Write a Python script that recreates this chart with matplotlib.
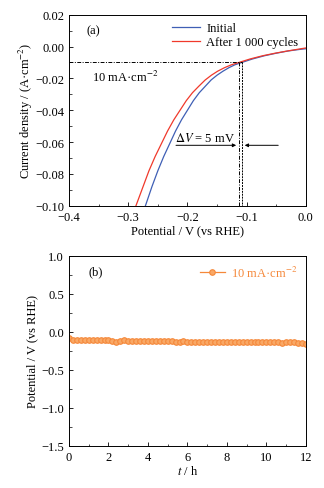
import matplotlib
matplotlib.use("Agg")
import matplotlib.pyplot as plt
from matplotlib.ticker import MultipleLocator

plt.rcParams["font.family"] = ["Liberation Serif", "DejaVu Serif"]
plt.rcParams["mathtext.fontset"] = "stix"
plt.rcParams["font.size"] = 9

# LSV curves, panel (a)
v_initial = [-0.271, -0.260, -0.250, -0.240, -0.230, -0.220, -0.210, -0.200,
             -0.190, -0.180, -0.170, -0.160, -0.150, -0.140, -0.130, -0.120,
             -0.108, -0.090, -0.070, -0.050, -0.030, -0.010, 0.000]
j_initial = [-0.100, -0.088, -0.078, -0.069, -0.061, -0.053, -0.046, -0.040,
             -0.034, -0.029, -0.025, -0.021, -0.018, -0.0155, -0.0133, -0.0115,
             -0.0100, -0.0078, -0.0058, -0.0042, -0.0028, -0.0018, -0.0014]
v_after = [-0.287, -0.275, -0.265, -0.2545, -0.244, -0.2335, -0.223, -0.2125,
           -0.202, -0.1915, -0.181, -0.170, -0.1595, -0.149, -0.1375, -0.126,
           -0.113, -0.094, -0.073, -0.052, -0.031, -0.010, 0.000]
j_after = [-0.100, -0.088, -0.078, -0.069, -0.061, -0.053, -0.046, -0.040,
           -0.034, -0.029, -0.025, -0.021, -0.018, -0.0155, -0.0133, -0.0115,
           -0.0100, -0.0078, -0.0058, -0.0042, -0.0028, -0.0015, -0.0009]

# chronopotentiometry at 10 mA/cm2, panel (b)
t_h = [0.0, 0.2, 0.4, 0.6, 0.8, 1.0, 1.2, 1.4, 1.6, 1.8, 2.0, 2.2, 2.4, 2.6,
       2.8, 3.0, 3.2, 3.4, 3.6, 3.8, 4.0, 4.2, 4.4, 4.6, 4.8, 5.0, 5.2, 5.4,
       5.6, 5.8, 6.0, 6.2, 6.4, 6.6, 6.8, 7.0, 7.2, 7.4, 7.6, 7.8, 8.0, 8.2,
       8.4, 8.6, 8.8, 9.0, 9.2, 9.4, 9.6, 9.8, 10.0, 10.2, 10.4, 10.6, 10.8,
       11.0, 11.2, 11.4, 11.6, 11.8, 12.0]
e_v = [-0.08, -0.11, -0.11, -0.11, -0.11, -0.11, -0.11, -0.11, -0.11, -0.11,
       -0.11, -0.12, -0.13, -0.12, -0.11, -0.12, -0.12, -0.12, -0.12, -0.12,
       -0.12, -0.12, -0.12, -0.12, -0.12, -0.12, -0.12, -0.13, -0.14, -0.12,
       -0.13, -0.13, -0.13, -0.13, -0.13, -0.13, -0.13, -0.13, -0.13, -0.13,
       -0.13, -0.13, -0.13, -0.13, -0.13, -0.13, -0.13, -0.13, -0.13, -0.13,
       -0.13, -0.13, -0.13, -0.13, -0.15, -0.13, -0.14, -0.14, -0.15, -0.15,
       -0.16]


def fmt(digits):
    def f(v, pos):
        if abs(v) < 1e-9:
            v = 0.0
        return f"{v:.{digits}f}".replace("-", "\u2212")
    return plt.FuncFormatter(f)


fig = plt.figure(figsize=(3.24, 4.89), dpi=100)
ax1 = fig.add_axes([0.213, 0.577, 0.731, 0.391])
ax2 = fig.add_axes([0.213, 0.086, 0.731, 0.389])

# (a)
ax1.plot(v_initial, j_initial, color="#3f5fb5", lw=0.9, label="Initial")
ax1.plot(v_after, j_after, color="#f0392b", lw=0.9, label="After 1 000 cycles")
ax1.plot([-0.4, -0.108], [-0.01, -0.01], color="k", lw=0.7, ls=(0, (4, 1.5, 1, 1.5)))
ax1.plot([-0.113, -0.113], [-0.01, -0.1], color="k", lw=0.7, ls=(0, (4, 1.5, 1, 1.5)))
ax1.plot([-0.108, -0.108], [-0.01, -0.1], color="k", lw=0.7, ls=(0, (2, 1)))
ax1.annotate("", xy=(-0.113, -0.062), xytext=(-0.224, -0.062),
             arrowprops=dict(arrowstyle="-|>", color="k", lw=0.7, mutation_scale=5))
ax1.annotate("", xy=(-0.108, -0.062), xytext=(-0.042, -0.062),
             arrowprops=dict(arrowstyle="-|>", color="k", lw=0.7, mutation_scale=5))
ax1.text(-0.221, -0.0595, r"$\Delta V$ = 5 mV")
ax1.text(-0.362, -0.0215, "10 mA·cm$^{-2}$")
ax1.text(-0.37, 0.0085, "(a)")
ax1.set_xlim(-0.4, 0.0)
ax1.set_ylim(-0.10, 0.02)
ax1.xaxis.set_major_locator(MultipleLocator(0.1))
ax1.xaxis.set_minor_locator(MultipleLocator(0.05))
ax1.yaxis.set_major_locator(MultipleLocator(0.02))
ax1.yaxis.set_minor_locator(MultipleLocator(0.01))
ax1.xaxis.set_major_formatter(fmt(1))
ax1.yaxis.set_major_formatter(fmt(2))
ax1.set_xlabel("Potential / V (vs RHE)", labelpad=1)
ax1.set_ylabel("Current density / (A·cm$^{-2}$)", labelpad=0)
ax1.legend(loc="upper right", frameon=False, handlelength=2.2,
           borderaxespad=0.2, labelspacing=0.15, handletextpad=0.5)

# (b)
ax2.plot(t_h, e_v, color="#f5883a", lw=0.9, marker="o", ms=4,
         mfc="#f9a865", mec="#f5883a", mew=0.8, label="10 mA·cm$^{-2}$")
ax2.text(1.0, 0.76, "(b)")
ax2.set_xlim(0, 12)
ax2.set_ylim(-1.5, 1.0)
ax2.xaxis.set_major_locator(MultipleLocator(2))
ax2.xaxis.set_minor_locator(MultipleLocator(1))
ax2.yaxis.set_major_locator(MultipleLocator(0.5))
ax2.yaxis.set_minor_locator(MultipleLocator(0.25))
ax2.yaxis.set_major_formatter(fmt(1))
ax2.set_xlabel("$t$ / h", labelpad=1)
ax2.set_ylabel("Potential / V (vs RHE)", labelpad=2)
leg = ax2.legend(loc="upper right", frameon=False, handlelength=2.0,
                 borderaxespad=0.3, handletextpad=0.5)
for txt in leg.get_texts():
    txt.set_color("#f5883a")

for ax in (ax1, ax2):
    ax.tick_params(which="both", direction="in", top=False, right=False)
    ax.tick_params(which="major", length=3, width=0.6)
    ax.tick_params(which="minor", length=1.8, width=0.5)
    for s in ax.spines.values():
        s.set_linewidth(0.7)

fig.savefig("out.png", dpi=100)
